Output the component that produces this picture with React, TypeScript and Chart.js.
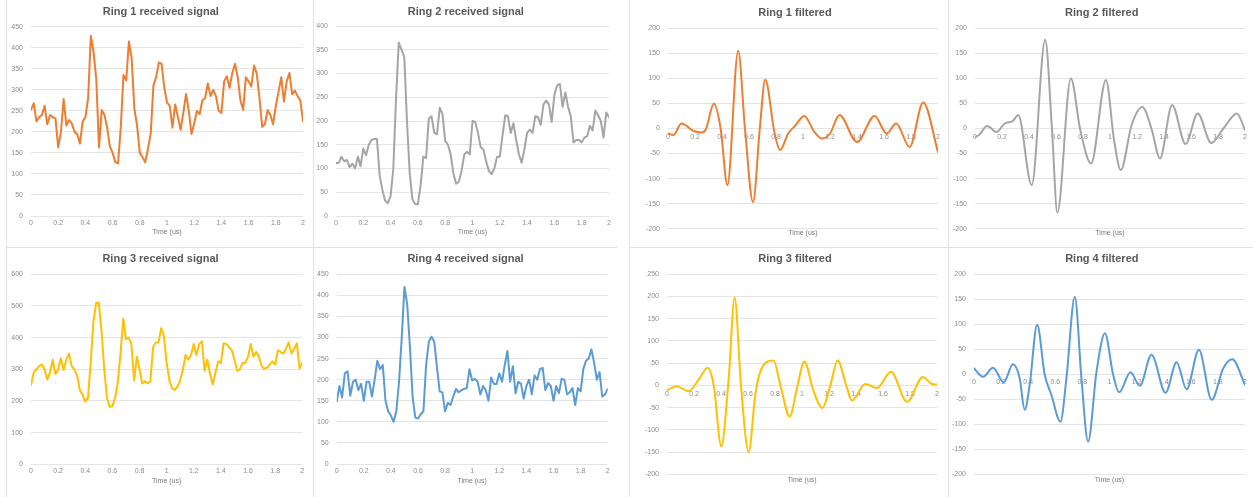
import { useEffect, useRef } from "react";
import { Chart, registerables } from "chart.js";

Chart.register(...registerables);

// ---- data -------------------------------------------------------------

// Sampling instants of the raw received signals (us)
const SAMPLE_TIMES = [
  0, 0.02, 0.04, 0.06, 0.08, 0.1, 0.12, 0.14, 0.16, 0.18,
  0.2, 0.22, 0.24, 0.26, 0.28, 0.3, 0.32, 0.34, 0.36, 0.38,
  0.4, 0.42, 0.44, 0.46, 0.48, 0.5, 0.52, 0.54, 0.56, 0.58,
  0.6, 0.62, 0.64, 0.66, 0.68, 0.7, 0.72, 0.74, 0.76, 0.78,
  0.8, 0.82, 0.84, 0.86, 0.88, 0.9, 0.92, 0.94, 0.96, 0.98,
  1, 1.02, 1.04, 1.06, 1.08, 1.1, 1.12, 1.14, 1.16, 1.18,
  1.2, 1.22, 1.24, 1.26, 1.28, 1.3, 1.32, 1.34, 1.36, 1.38,
  1.4, 1.42, 1.44, 1.46, 1.48, 1.5, 1.52, 1.54, 1.56, 1.58,
  1.6, 1.62, 1.64, 1.66, 1.68, 1.7, 1.72, 1.74, 1.76, 1.78,
  1.8, 1.82, 1.84, 1.86, 1.88, 1.9, 1.92, 1.94, 1.96, 1.98,
  2,
];

const RING1_RAW = [
  252, 268, 225, 235, 240, 262, 218, 240, 235, 232,
  163, 200, 278, 215, 228, 220, 200, 195, 172, 225,
  235, 280, 428, 390, 325, 163, 252, 240, 210, 165,
  150, 128, 125, 210, 335, 322, 415, 375, 255, 215,
  150, 140, 128, 160, 195, 310, 330, 365, 362, 305,
  270, 262, 210, 265, 235, 205, 245, 290, 250, 195,
  220, 250, 242, 275, 280, 315, 285, 300, 285, 250,
  245, 320, 332, 305, 340, 362, 330, 275, 252, 330,
  320, 308, 358, 338, 280, 212, 218, 252, 240, 218,
  262, 295, 330, 272, 320, 340, 290, 298, 285, 275,
  225,
];

const RING2_RAW = [
  111, 112, 125, 115, 118, 103, 110, 100, 125, 105,
  142, 128, 150, 160, 162, 162, 85, 55, 32, 27,
  42, 100, 250, 365, 350, 335, 200, 90, 35, 25,
  25, 65, 125, 122, 205, 210, 175, 172, 228, 215,
  158, 150, 130, 90, 68, 72, 95, 130, 135, 130,
  200, 198, 175, 145, 140, 115, 95, 88, 100, 125,
  125, 170, 212, 210, 175, 195, 160, 130, 112, 140,
  175, 182, 175, 210, 208, 192, 235, 243, 235, 198,
  255, 275, 278, 230, 260, 230, 210, 155, 160, 160,
  155, 165, 168, 190, 180, 222, 212, 200, 165, 218,
  208,
];

const RING3_RAW = [
  250, 290, 300, 310, 315, 300, 268, 290, 330, 285,
  300, 335, 298, 330, 350, 310, 300, 280, 235, 220,
  198, 210, 320, 450, 510, 510, 420, 300, 210, 182,
  183, 210, 260, 350, 460, 395, 400, 380, 265, 340,
  300, 255, 262, 255, 262, 370, 385, 385, 430, 405,
  320, 265, 240, 235, 245, 265, 300, 345, 330, 345,
  380, 345, 380, 388, 295, 330, 285, 252, 290, 325,
  320, 382, 380, 370, 360, 330, 295, 300, 320, 320,
  340, 380, 340, 355, 340, 310, 302, 305, 315, 325,
  315, 360, 355, 350, 365, 385, 350, 365, 382, 302,
  322,
];

const RING4_RAW = [
  148, 185, 158, 215, 220, 162, 195, 200, 175, 190,
  150, 195, 195, 160, 200, 245, 225, 235, 150, 125,
  115, 100, 125, 195, 300, 420, 380, 280, 160, 110,
  108, 118, 125, 235, 290, 302, 290, 230, 172, 170,
  125, 145, 140, 160, 178, 170, 175, 178, 180, 225,
  198, 202, 195, 165, 185, 175, 150, 205, 190, 190,
  215, 195, 235, 268, 195, 232, 168, 195, 190, 155,
  185, 200, 165, 210, 200, 225, 228, 175, 192, 185,
  150, 185, 168, 202, 200, 165, 170, 180, 140, 180,
  172, 225, 245, 250, 272, 240, 200, 218, 160, 165,
  178,
];

// Band-pass filtered signals: turning points of each trace (time in us, amplitude)
const RING1_FILT_T = [
  0, 0.04, 0.1, 0.19, 0.25, 0.28, 0.34, 0.39, 0.44, 0.52,
  0.57, 0.63, 0.68, 0.72, 0.79, 0.83, 0.89, 0.94, 1.01, 1.08,
  1.14, 1.2, 1.27, 1.4, 1.53, 1.62, 1.69, 1.79, 1.89, 2,
];
const RING1_FILT_V = [
  -10, -13, 10, -5, -8, -2, 50, 0, -113, 155,
  0, -147, 0, 98, -10, -43, -10, 5, 25, -5,
  -20, -10, 27, -27, 25, -10, 10, -37, 52, -47,
];

const RING2_FILT_T = [
  0, 0.03, 0.09, 0.16, 0.22, 0.28, 0.32, 0.42, 0.52, 0.57,
  0.61, 0.71, 0.78, 0.86, 0.97, 1.03, 1.08, 1.16, 1.24, 1.31,
  1.37, 1.46, 1.56, 1.65, 1.75, 1.84, 1.94, 2,
];
const RING2_FILT_V = [
  -17, -13, 5, -7, 10, 15, 27, -113, 177, 0,
  -168, 100, -3, -70, 97, -23, -83, 7, 43, -3,
  -60, 47, -31, 30, -29, 0, 30, -3,
];

const RING3_FILT_T = [
  0, 0.074, 0.16, 0.235, 0.301, 0.346, 0.402, 0.457, 0.501, 0.548,
  0.605, 0.654, 0.691, 0.79, 0.84, 0.909, 0.963, 1.017, 1.086, 1.151,
  1.21, 1.264, 1.328, 1.37, 1.469, 1.556, 1.659, 1.778, 1.896, 1.963,
  2,
];
const RING3_FILT_V = [
  -11, -2, -13, 13, 40, 0, -137, 16, 198, 0,
  -150, -21, 31, 56, 0, -70, -6, 54, -13, -51,
  0, 56, 0, -34, 3, -6, 31, -37, 19, 3,
  2,
];

const RING4_FILT_T = [
  0, 0.067, 0.14, 0.219, 0.288, 0.337, 0.374, 0.411, 0.466, 0.522,
  0.571, 0.638, 0.682, 0.744, 0.793, 0.842, 0.904, 0.966, 1.027, 1.071,
  1.155, 1.224, 1.31, 1.414, 1.495, 1.569, 1.66, 1.754, 1.84, 1.906,
  2,
];
const RING4_FILT_V = [
  12, -5, 13, -16, 20, -8, -71, -21, 99, -1,
  -41, -95, -8, 155, -8, -135, 5, 82, -1, -36,
  4, -23, 39, -37, 24, -30, 49, -51, 12, 30,
  -21,
];

const X_AXIS_TITLE = "Time (us)";

// ---- styling ----------------------------------------------------------

const FONT_FAMILY = '"Liberation Sans", Arial, Helvetica, sans-serif';
const TITLE_SIZE = 11;
const TICK_SIZE = 7;
const LINE_HEIGHT = 1.2;
const TITLE_COLOR = "#595959";
const TICK_COLOR = "#8c8c8c";
const AXIS_TITLE_COLOR = "#7a7a7a";
const GRID_COLOR = "#e4e4e4";
const FRAME_COLOR = "#e2e2e2";

const ORANGE = "#ED7D31";
const GREY = "#A5A5A5";
const GOLD = "#FFC000";
const BLUE = "#5B9BD5";

type Box = { left: number; right: number; top: number; bottom: number };

type PanelSpec = {
  title: string;
  color: string;
  times: number[];
  values: number[];
  smooth: boolean; // filtered traces are drawn as smooth curves with the time axis at zero
  yMin: number;
  yMax: number;
  yStep: number;
  // layout on the page (px)
  x: number; // left edge of the canvas (also left edge of the y tick label strip)
  y: number;
  h: number;
  plot: Box;
  titleX: number;
  titleY: number;
  axisTitleY: number;
};

const PANELS: PanelSpec[] = [
  {
    title: "Ring 1 received signal", color: ORANGE, times: SAMPLE_TIMES, values: RING1_RAW, smooth: false,
    yMin: 0, yMax: 450, yStep: 50,
    x: 7, y: 0, h: 247, plot: { left: 31, right: 303, top: 26.7, bottom: 216 },
    titleX: 160.8, titleY: 11.5, axisTitleY: 232,
  },
  {
    title: "Ring 2 received signal", color: GREY, times: SAMPLE_TIMES, values: RING2_RAW, smooth: false,
    yMin: 0, yMax: 400, yStep: 50,
    x: 314, y: 0, h: 247, plot: { left: 336, right: 609, top: 26, bottom: 216 },
    titleX: 465.8, titleY: 11.5, axisTitleY: 232,
  },
  {
    title: "Ring 1 filtered", color: ORANGE, times: RING1_FILT_T, values: RING1_FILT_V, smooth: true,
    yMin: -200, yMax: 200, yStep: 50,
    x: 632, y: 0, h: 247, plot: { left: 668, right: 938, top: 28.3, bottom: 228.7 },
    titleX: 795, titleY: 12.7, axisTitleY: 233.5,
  },
  {
    title: "Ring 2 filtered", color: GREY, times: RING2_FILT_T, values: RING2_FILT_V, smooth: true,
    yMin: -200, yMax: 200, yStep: 50,
    x: 949, y: 0, h: 247, plot: { left: 975, right: 1245, top: 28.3, bottom: 228.7 },
    titleX: 1101.7, titleY: 12.7, axisTitleY: 233.5,
  },
  {
    title: "Ring 3 received signal", color: GOLD, times: SAMPLE_TIMES, values: RING3_RAW, smooth: false,
    yMin: 0, yMax: 600, yStep: 100,
    x: 7, y: 248, h: 249, plot: { left: 31, right: 302.3, top: 274.3, bottom: 464.3 },
    titleX: 160.5, titleY: 258.5, axisTitleY: 481,
  },
  {
    title: "Ring 4 received signal", color: BLUE, times: SAMPLE_TIMES, values: RING4_RAW, smooth: false,
    yMin: 0, yMax: 450, yStep: 50,
    x: 314, y: 248, h: 249, plot: { left: 336.7, right: 607.7, top: 274.3, bottom: 464 },
    titleX: 465.5, titleY: 258.5, axisTitleY: 481,
  },
  {
    title: "Ring 3 filtered", color: GOLD, times: RING3_FILT_T, values: RING3_FILT_V, smooth: true,
    yMin: -200, yMax: 250, yStep: 50,
    x: 632, y: 248, h: 249, plot: { left: 667, right: 937, top: 274.3, bottom: 474.3 },
    titleX: 795, titleY: 259, axisTitleY: 480,
  },
  {
    title: "Ring 4 filtered", color: BLUE, times: RING4_FILT_T, values: RING4_FILT_V, smooth: true,
    yMin: -200, yMax: 200, yStep: 50,
    x: 949, y: 248, h: 249, plot: { left: 974, right: 1245, top: 274.3, bottom: 474.3 },
    titleX: 1101.8, titleY: 259, axisTitleY: 480,
  },
];

// Thin frame lines between the panels
const FRAME_LINES = [
  { left: 6, top: 0, width: 1, height: 497 },
  { left: 313, top: 0, width: 1, height: 497 },
  { left: 6, top: 247, width: 611, height: 1 },
  { left: 629, top: 0, width: 1, height: 497 },
  { left: 948, top: 0, width: 1, height: 497 },
  { left: 629, top: 247, width: 624, height: 1 },
];

const formatTime = (v: number | string) => String(Number(Number(v).toFixed(1)));

// Extra space reserved right of the plot so the full-width title lands at titleX
function rightGutter(p: PanelSpec) {
  return Math.max(0, 2 * p.titleX - p.x - p.plot.right);
}

function canvasWidth(p: PanelSpec) {
  return Math.ceil(p.plot.right + rightGutter(p) - p.x);
}

function buildConfig(p: PanelSpec): any {
  const titleLH = TITLE_SIZE * LINE_HEIGHT;
  const tickLH = TICK_SIZE * LINE_HEIGHT;

  const w = canvasWidth(p);
  const gutter = rightGutter(p);
  const padRight = p.x + w - p.plot.right - gutter;
  const yAxisWidth = p.plot.left - p.x;
  const titleTop = p.titleY - p.y - titleLH / 2;
  const titleBottom = p.plot.top - p.y - titleLH - titleTop;
  const bottomAxisHeight = p.axisTitleY + tickLH / 2 - p.plot.bottom;
  const padBottom = p.y + p.h - p.plot.bottom - bottomAxisHeight;

  const tickFont = { family: FONT_FAMILY, size: TICK_SIZE, lineHeight: LINE_HEIGHT };

  const xTicks = {
    stepSize: 0.2,
    autoSkip: false,
    maxRotation: 0,
    color: TICK_COLOR,
    font: tickFont,
    callback: formatTime,
  };
  const axisTitle = {
    display: true,
    text: X_AXIS_TITLE,
    color: AXIS_TITLE_COLOR,
    font: tickFont,
    padding: 0,
  };
  const hidden = {
    ticks: { display: false },
    grid: { display: false, drawTicks: false },
    border: { display: false },
  };

  const scales: any = {};
  if (p.smooth) {
    scales.x = {
      type: "linear",
      min: 0,
      max: 2,
      position: { y: 0 },
      ticks: { ...xTicks, padding: 4 },
      grid: { display: false, drawTicks: false },
      border: { display: false },
    };
    scales.xTitle = {
      type: "linear",
      axis: "x",
      position: "bottom",
      min: 0,
      max: 2,
      ...hidden,
      title: axisTitle,
      afterFit: (s: any) => {
        s.height = bottomAxisHeight;
      },
    };
  } else {
    scales.x = {
      type: "linear",
      min: 0,
      max: 2,
      position: "bottom",
      ticks: { ...xTicks, padding: 3 },
      grid: { display: false, drawTicks: false },
      border: { display: false },
      title: axisTitle,
      afterFit: (s: any) => {
        s.height = bottomAxisHeight;
      },
    };
  }
  scales.y = {
    type: "linear",
    position: "left",
    min: p.yMin,
    max: p.yMax,
    ticks: {
      stepSize: p.yStep,
      padding: 8,
      color: TICK_COLOR,
      font: tickFont,
      callback: (v: number | string) => String(v),
    },
    grid: { color: GRID_COLOR, lineWidth: 1, drawTicks: false },
    border: { display: false },
    afterFit: (s: any) => {
      s.width = yAxisWidth;
    },
  };
  scales.yGutter = {
    type: "linear",
    axis: "y",
    position: "right",
    min: 0,
    max: 1,
    ...hidden,
    afterFit: (s: any) => {
      s.width = gutter;
    },
  };

  return {
    type: "line",
    data: {
      datasets: [
        {
          data: p.times.map((t, i) => ({ x: t, y: p.values[i] })),
          xAxisID: "x",
          yAxisID: "y",
          borderColor: p.color,
          backgroundColor: p.color,
          borderWidth: 2,
          pointRadius: 0,
          fill: false,
          tension: 0,
          cubicInterpolationMode: p.smooth ? "monotone" : "default",
          borderJoinStyle: "round",
          borderCapStyle: "round",
        },
      ],
    },
    options: {
      responsive: false,
      maintainAspectRatio: false,
      animation: false,
      devicePixelRatio: 1,
      layout: {
        padding: { left: 0, right: padRight, top: 0, bottom: padBottom },
      },
      plugins: {
        legend: { display: false },
        tooltip: { enabled: false },
        title: {
          display: true,
          text: p.title,
          color: TITLE_COLOR,
          font: { family: FONT_FAMILY, size: TITLE_SIZE, weight: "bold", lineHeight: LINE_HEIGHT },
          padding: { top: titleTop, bottom: titleBottom },
        },
      },
      scales,
    },
  };
}

function Panel({ spec }: { spec: PanelSpec }) {
  const ref = useRef<HTMLCanvasElement | null>(null);
  const w = canvasWidth(spec);
  useEffect(() => {
    if (!ref.current) return;
    const chart = new Chart(ref.current, buildConfig(spec));
    return () => chart.destroy();
  }, [spec]);
  return (
    <canvas
      ref={ref}
      width={w}
      height={spec.h}
      style={{
        position: "absolute",
        left: spec.x,
        top: spec.y,
        width: w,
        height: spec.h,
      }}
    />
  );
}

export default function App() {
  return (
    <div
      style={{
        position: "absolute",
        left: 0,
        top: 0,
        width: 1253,
        height: 497,
        background: "#ffffff",
        overflow: "hidden",
      }}
    >
      {FRAME_LINES.map((l, i) => (
        <div
          key={i}
          style={{ position: "absolute", background: FRAME_COLOR, ...l }}
        />
      ))}
      {PANELS.map((p) => (
        <Panel key={p.title} spec={p} />
      ))}
    </div>
  );
}
